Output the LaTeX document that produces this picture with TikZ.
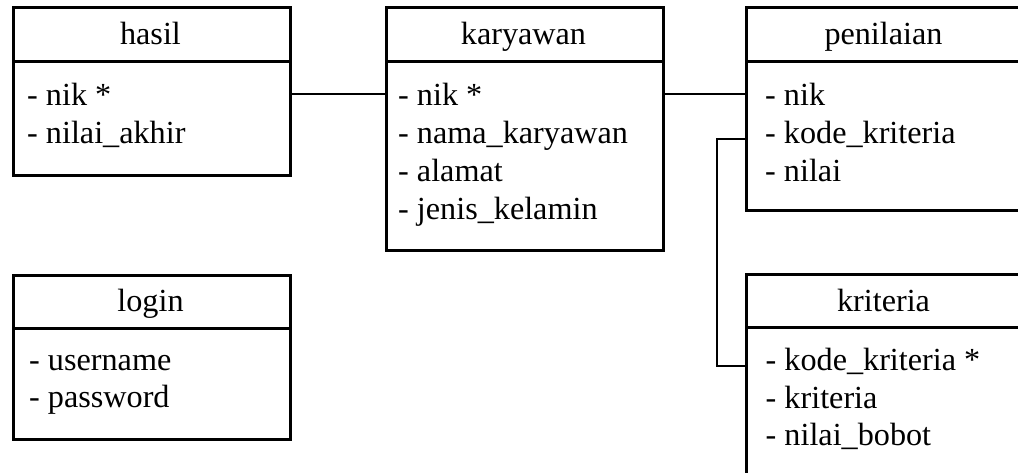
\documentclass[tikz,border=0pt]{standalone}
\usepackage{fontspec}
\setmainfont{Liberation Serif}
\begin{document}
\begin{tikzpicture}[x=1pt,y=-1pt,
  entity/.style={draw,line width=3pt,anchor=north west,inner sep=0pt,
    minimum width=277pt},
  rule/.style={line width=3pt},
  link/.style={line width=2.7pt},
  title/.style={anchor=base,inner sep=0pt,font=\fontsize{32.2}{38}\selectfont},
  attr/.style={anchor=base west,inner sep=0pt,font=\fontsize{32.2}{38}\selectfont}]
\useasboundingbox (0,0) rectangle (1018,473);

% tables
\node[entity,minimum height=168pt] (hasil) at (12,6) {};
\node[entity,minimum height=243pt] (karyawan) at (385,6) {};
\node[entity,minimum height=203pt] (penilaian) at (745,6) {};
\node[entity,minimum height=164pt] (login) at (12,274) {};
\node[entity,minimum height=230pt] (kriteria) at (745,273) {};

% header separators
\draw[rule] ([yshift=-56pt]hasil.north west) -- ([yshift=-56pt]hasil.north east);
\draw[rule] ([yshift=-56pt]karyawan.north west) -- ([yshift=-56pt]karyawan.north east);
\draw[rule] ([yshift=-56pt]penilaian.north west) -- ([yshift=-56pt]penilaian.north east);
\draw[rule] ([yshift=-54pt]login.north west) -- ([yshift=-54pt]login.north east);
\draw[rule] ([yshift=-54pt]kriteria.north west) -- ([yshift=-54pt]kriteria.north east);

% titles
\node[title] (tHasil) at (150.5,45) {hasil};
\node[title] (tKaryawan) at (523.5,45) {karyawan};
\node[title] (tPenilaian) at (883.5,45) {penilaian};
\node[title] (tLogin) at (150.5,312) {login};
\node[title] (tKriteria) at (883.5,312) {kriteria};

% attributes
\node[attr] (h1) at (27,106) {- nik *};
\node[attr] (h2) at (27,144) {- nilai\_akhir};

\node[attr] (k1) at (398,106) {- nik *};
\node[attr] (k2) at (398,144) {- nama\_karyawan};
\node[attr] (k3) at (398,182) {- alamat};
\node[attr] (k4) at (398,220) {- jenis\_kelamin};

\node[attr] (p1) at (765,106) {- nik};
\node[attr] (p2) at (765,144) {- kode\_kriteria};
\node[attr] (p3) at (765,182) {- nilai};

\node[attr] (l1) at (29,370) {- username};
\node[attr] (l2) at (29,407) {- password};

\node[attr] (c1) at (765.5,370) {- kode\_kriteria *};
\node[attr] (c2) at (765.5,408) {- kriteria};
\node[attr] (c3) at (765.5,445) {- nilai\_bobot};

% relations
\coordinate (r1) at (0,94);
\coordinate (r2) at (0,139);
\coordinate (r3) at (0,366);
\coordinate (bendTop) at (717,139);
\coordinate (bendBot) at (717,366);
\draw[link] (hasil.east |- r1) -- (karyawan.west |- r1);
\draw[link] (karyawan.east |- r1) -- (penilaian.west |- r1);
\draw[link] (penilaian.west |- r2) -- (bendTop) -- (bendBot) -- (kriteria.west |- r3);
\end{tikzpicture}
\end{document}
